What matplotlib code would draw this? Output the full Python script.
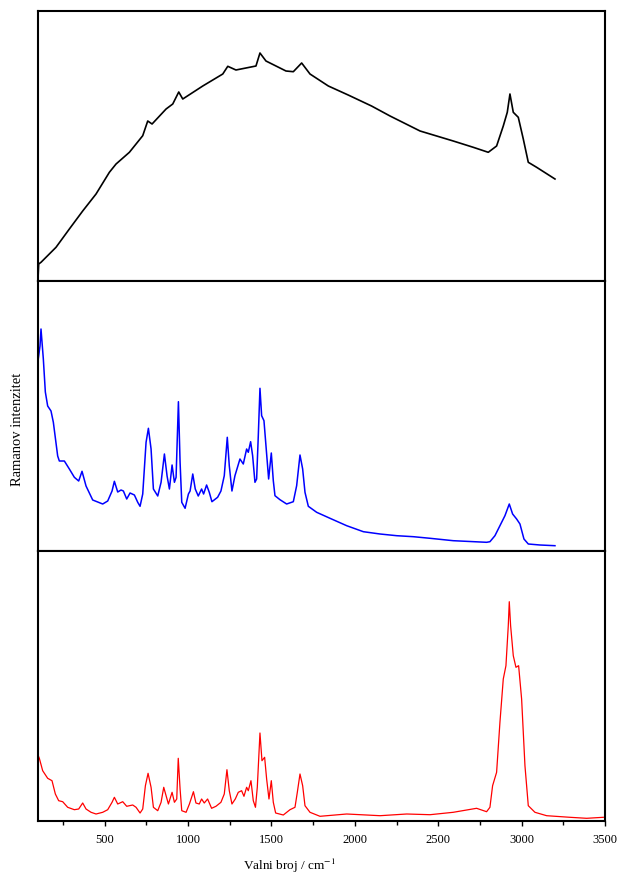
import numpy as np
import matplotlib
matplotlib.use("Agg")
import matplotlib.pyplot as plt
from matplotlib.ticker import MultipleLocator

plt.rcParams['font.family'] = ['Liberation Serif', 'DejaVu Serif']
plt.rcParams['mathtext.fontset'] = 'stix'

# gornji spektar (crni)
x_top = [100, 104, 118, 208, 288, 368, 448, 528, 568, 648, 728, 758, 784, 868, 908,
         944, 968, 1088, 1208, 1238, 1287, 1407, 1431, 1467, 1587, 1631, 1681, 1731,
         1841, 1960, 2100, 2211, 2391, 2590, 2710, 2800, 2850, 2890, 2914, 2930, 2950,
         2980, 3010, 3040, 3090, 3200]
y_top = [2, 17, 18.7, 33.7, 52, 70, 87, 108.7, 117, 128.7, 145.3, 160, 157, 172, 177,
         189, 182, 195, 207, 214.7, 211, 215, 228, 220, 210, 209.3, 218, 207,
         195, 186, 175, 165, 150, 140, 133.7, 128.7, 135, 155, 168.7, 187, 168.7,
         163.7, 142, 118.7, 113.7, 102]

# srednji spektar (plavi)
x_mid = [100, 112, 118, 132, 144, 158, 178, 192, 218, 228, 258, 288, 318, 344, 364,
         388, 428, 488, 518, 544, 558, 578, 598, 612, 632, 652, 678, 698, 712, 728,
         748, 762, 778, 792, 818, 838, 858, 874, 888, 904, 918, 928, 942, 952, 962,
         982, 1002, 1012, 1028, 1043, 1061, 1081, 1093, 1111, 1127, 1143, 1177, 1197,
         1217, 1235, 1247, 1263, 1281, 1311, 1331, 1351, 1361, 1375, 1387, 1401, 1411,
         1421, 1431, 1441, 1455, 1467, 1483, 1499, 1511, 1521, 1551, 1591, 1631, 1651,
         1671, 1687, 1701, 1721, 1771, 1851, 1951, 2051, 2151, 2251, 2351, 2451, 2590,
         2790, 2810, 2840, 2870, 2900, 2926, 2946, 2970, 2990, 3014, 3040, 3110, 3200]
y_mid = [190, 205, 222, 192, 159, 145, 140, 128.7, 95, 90, 90, 82, 73.7, 70, 79.7,
         65, 51, 47, 50, 60, 69.7, 59, 61, 60, 52, 58, 56, 48.7, 44.7, 57,
         108.7, 122.7, 102, 62, 55, 68.7, 97, 75, 62, 86, 68.7, 73.7, 149.3, 88.7, 48.7,
         42.7, 57, 60, 77, 62, 55, 62, 57, 66, 58.7, 49.3, 53.7, 60,
         75.3, 113.7, 85.3, 60, 75.3, 92, 87, 102, 98.7, 109.3, 95.3, 68.7, 72,
         115.3, 162.7, 135.3, 130.3, 105.3, 72, 98, 70.3, 55.3, 51.3, 47, 49.3, 65.3,
         96, 82, 58.7, 44.7, 38.7, 32.7, 25.3, 19.3, 17, 15.3, 14.3, 12.7, 10.3,
         8.7, 9.3, 15.3, 25.3, 35.3, 47, 37, 32, 27, 12, 7, 6, 5.3]

# donji spektar (crveni)
x_bot = [100, 108, 128, 158, 184, 204, 224, 248, 278, 318, 344, 368, 388, 418, 448,
         488, 518, 544, 558, 578, 608, 632, 668, 688, 712, 728, 744, 760, 778, 792,
         818, 838, 854, 868, 882, 904, 918, 932, 941, 952, 962, 988, 1008, 1032, 1047,
         1067, 1081, 1097, 1117, 1141, 1167, 1197, 1217, 1233, 1247, 1263, 1283, 1301,
         1321, 1335, 1351, 1361, 1377, 1391, 1404, 1415, 1431, 1443, 1459, 1471, 1485,
         1499, 1511, 1525, 1571, 1611, 1641, 1655, 1671, 1687, 1701, 1731, 1791, 1951,
         2151, 2311, 2451, 2590, 2730, 2790, 2810, 2826, 2850, 2870, 2890, 2906, 2920,
         2926, 2934, 2950, 2966, 2982, 3000, 3020, 3040, 3080, 3150, 3290, 3390, 3490]
y_bot = [66, 62.7, 50.3, 42.7, 40.3, 27, 20.3, 19.3, 13.7, 11.3, 12, 18, 12, 8.7, 7,
         8.7, 11.3, 18.7, 23.7, 17, 19.3, 14.7, 16, 13.7, 8, 12, 35.3, 47.7, 33.7, 13.7,
         10.3, 18.7, 33.7, 25.3, 17, 28.7, 18.7, 22, 62.7, 32, 10.3, 8.7, 17, 29.3, 18,
         17, 22, 18, 22, 12.7, 14.7, 18.7, 27, 51.3, 30.3, 17, 22, 28.7,
         30.3, 24.7, 33.7, 30.3, 40.3, 20.3, 13.7, 33.7, 88, 60.3, 63.7, 42, 22,
         40.3, 18.7, 8, 6, 11.3, 13.7, 28.7, 47, 35.3, 15.3, 8.7, 4.7, 7,
         5.3, 7, 6.3, 8.7, 12.7, 9.3, 13.7, 35.3, 48.7, 98.7, 142, 155.3, 195.3,
         219.3, 195.3, 165.3, 153.7, 155.3, 122, 55.3, 15.3, 8.7, 5.3, 3.7, 2.7, 3.7]

spectra = [(x_top, y_top, 'black', 1.2), (x_mid, y_mid, 'blue', 1.1), (x_bot, y_bot, 'red', 0.9)]

W, H = 617, 878
fig = plt.figure(figsize=(W / 100, H / 100), dpi=100)

left, right = 38, 605
tops = [12, 282, 552]
panel_h = 270

for i, (xs, ys, col, lw) in enumerate(spectra):
    top = tops[i]
    ax = fig.add_axes([left / W, 1 - (top + panel_h) / H, (right - left) / W, panel_h / H])
    ax.plot(xs, ys, color=col, lw=lw)
    ax.set_xlim(100, 3500)
    ax.set_ylim(0, 270)
    ax.set_yticks([])
    for s in ax.spines.values():
        s.set_linewidth(1.5)
    if i < 2:
        ax.set_xticks([])
    else:
        ax.xaxis.set_minor_locator(MultipleLocator(250))
        ax.set_xticks(range(500, 3501, 500))
        ax.tick_params(axis='x', which='major', direction='out', length=3.5, width=1,
                       labelsize=9, pad=5)
        ax.tick_params(axis='x', which='minor', direction='out', length=3, width=1)

fig.text(289 / W, 1 - 866 / H, 'Valni broj / cm$^{-1}$', ha='center', va='center',
         fontsize=9.5)
fig.text(18 / W, 1 - 429 / H, 'Ramanov intenzitet', ha='center', va='center',
         rotation=90, fontsize=10.5)

fig.savefig('out.png', dpi=100)
